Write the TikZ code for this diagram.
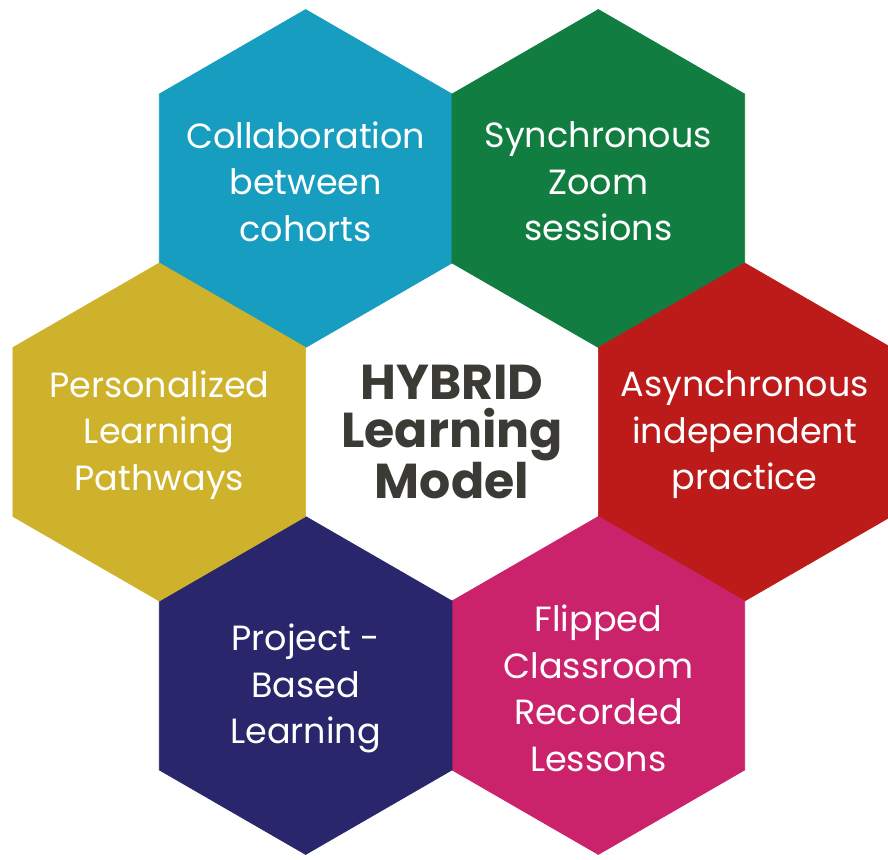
\documentclass[tikz,border=0pt]{standalone}
\usepackage{fontspec}
\setmainfont{Poppins}
\usetikzlibrary{shapes.geometric}

\definecolor{cohortteal}{HTML}{169DBF}
\definecolor{zoomgreen}{HTML}{117D40}
\definecolor{practicered}{HTML}{BD1A1A}
\definecolor{lessonpink}{HTML}{CB236B}
\definecolor{projectnavy}{HTML}{29266C}
\definecolor{pathgold}{HTML}{CFB22B}
\definecolor{hubdark}{HTML}{3B3A35}

\begin{document}
\begin{tikzpicture}[x=1pt, y=1pt,
	hexcell/.style={regular polygon, regular polygon sides=6, shape border rotate=30,
		minimum size=338pt, inner sep=0pt, outer sep=0pt, fill=#1, draw=#1, line width=0.6pt},
	hexlabel/.style={text=white, align=center, inner sep=0pt, font=\fontsize{35}{46.5}\selectfont},
	hublabel/.style={text=hubdark, align=center, inner sep=0pt, font=\bfseries\fontsize{49}{47.5}\selectfont}]
	\useasboundingbox (-452,-427) rectangle (436,432);
	\node[hexcell=white] (hub) at (0,0) {};
	\node[hublabel] (hubtext) at (hub) {HYBRID\\Learning\\Model};
	\foreach \name/\ang/\col/\txt in {
		collab/120/cohortteal/{Collaboration\\between\\cohorts},
		sync/60/zoomgreen/{Synchronous\\Zoom\\sessions},
		async/0/practicered/{Asynchronous\\independent\\practice},
		flipped/-60/lessonpink/{Flipped\\Classroom\\Recorded\\Lessons},
		project/-120/projectnavy/{Project -\\Based\\Learning},
		pathways/180/pathgold/{Personalized\\Learning\\Pathways}} {
		\node[hexcell=\col] (\name) at (\ang:292.7) {};
		\node[hexlabel] (\name-text) at ([yshift=-3pt]\name.center) {\txt};
	}
\end{tikzpicture}
\end{document}
